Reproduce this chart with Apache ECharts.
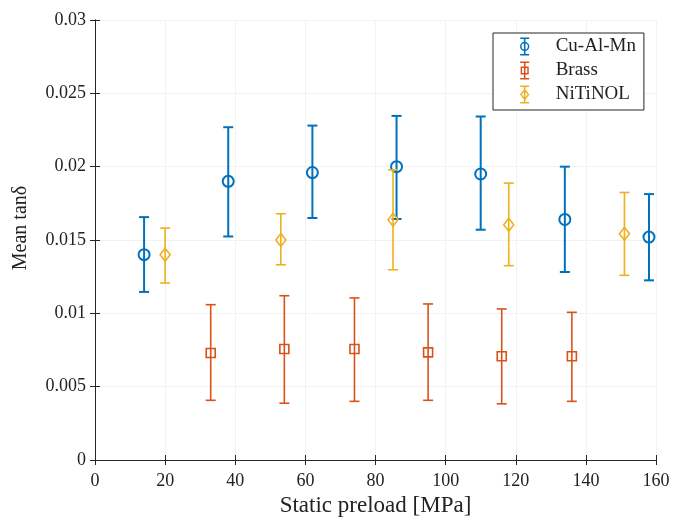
<!DOCTYPE html>
<html>
<head>
<meta charset="utf-8">
<script src="https://cdn.jsdelivr.net/npm/echarts@6/dist/echarts.min.js"></script>
<style>
  html, body { margin: 0; padding: 0; background: #fff; }
  #chart { width: 673px; height: 517px; }
</style>
</head>
<body>
<div id="chart"></div>
<script>
// preload [MPa] and mean tan(delta) with error bar ends
const cuX = [14, 38, 62, 86, 110, 134, 158];
const cuMean = [0.0140, 0.0190, 0.0196, 0.0200, 0.0195, 0.0164, 0.0152];
const cuLow = [0.01146, 0.01524, 0.0165, 0.01643, 0.0157, 0.01282, 0.01225];
const cuHigh = [0.01656, 0.02269, 0.0228, 0.02346, 0.02342, 0.0200, 0.01813];

const brassX = [33, 54, 74, 95, 116, 136];
const brassMean = [0.0073, 0.00757, 0.00757, 0.00734, 0.00707, 0.00707];
const brassLow = [0.00407, 0.00387, 0.0040, 0.00407, 0.00383, 0.0040];
const brassHigh = [0.01059, 0.0112, 0.01105, 0.01064, 0.0103, 0.01007];

const niX = [20, 53, 85, 118, 151];
const niMean = [0.0140, 0.0150, 0.01638, 0.01604, 0.01543];
const niLow = [0.01207, 0.01331, 0.01297, 0.01325, 0.01259];
const niHigh = [0.01581, 0.01679, 0.01978, 0.01888, 0.01824];

const seriesNames = ['Cu-Al-Mn', 'Brass', 'NiTiNOL'];
const colors = ['#0072BD', '#D95319', '#EDB120'];

const FONT = 'Liberation Serif';
const AXIS_COLOR = '#262626';

function rows(x, m, lo, hi) {
  return x.map((v, i) => [v, m[i], lo[i], hi[i]]);
}

// legend icons: error bar with the marker on it
const capsAndLine = 'M1 0H11V1.8H1Z M1 18.2H11V20H1Z M5.1 0H6.9V20H5.1Z ';
const icons = [
  'path://' + capsAndLine + 'M0.8 10A5.2 5.2 0 1 1 11.2 10A5.2 5.2 0 1 1 0.8 10Z M2.5 10A3.5 3.5 0 1 0 9.5 10A3.5 3.5 0 1 0 2.5 10Z',
  'path://' + capsAndLine + 'M1.5 5.5H10.5V14.5H1.5Z M3.1 7.1V12.9H8.9V7.1Z',
  'path://' + capsAndLine + 'M6 3.2L11.2 10L6 16.8L0.8 10Z M6 5.8L2.8 10L6 14.2L9.2 10Z'
];

function errorBar(marker, width) {
  return function (params, api) {
    const x = api.value(0);
    const c = api.coord([x, api.value(1)]);
    const lo = api.coord([x, api.value(2)]);
    const hi = api.coord([x, api.value(3)]);
    const st = { stroke: api.visual('color'), lineWidth: width, fill: 'none' };
    const hw = 5;
    const kids = [
      { type: 'line', shape: { x1: c[0], y1: hi[1], x2: c[0], y2: lo[1] }, style: st },
      { type: 'line', shape: { x1: c[0] - hw, y1: hi[1], x2: c[0] + hw, y2: hi[1] }, style: st },
      { type: 'line', shape: { x1: c[0] - hw, y1: lo[1], x2: c[0] + hw, y2: lo[1] }, style: st }
    ];
    if (marker === 'circle') {
      kids.push({ type: 'circle', shape: { cx: c[0], cy: c[1], r: 5.5 }, style: st });
    } else if (marker === 'square') {
      kids.push({ type: 'rect', shape: { x: c[0] - 4.5, y: c[1] - 4.5, width: 9, height: 9 }, style: st });
    } else {
      kids.push({ type: 'polygon', shape: { points: [[c[0], c[1] - 6.5], [c[0] + 5, c[1]], [c[0], c[1] + 6.5], [c[0] - 5, c[1]]] }, style: st });
    }
    return { type: 'group', children: kids };
  };
}

const chart = echarts.init(document.getElementById('chart'));

const xBase = {
  type: 'value', min: 0, max: 160, interval: 20,
  axisLine: { show: true, lineStyle: { color: AXIS_COLOR, width: 1 } },
  axisTick: { show: true, inside: true, length: 5, lineStyle: { color: AXIS_COLOR } }
};
const yBase = {
  type: 'value', min: 0, max: 0.03, interval: 0.005,
  axisLine: { show: true, lineStyle: { color: AXIS_COLOR, width: 1 } },
  axisTick: { show: true, inside: true, length: 5, lineStyle: { color: AXIS_COLOR } }
};

const option = {
  backgroundColor: '#fff',
  animation: false,
  grid: { left: 95, right: 17, top: 20, bottom: 57, outerBoundsMode: 'none', containLabel: false },
  legend: {
    orient: 'vertical',
    left: 493, top: 33,
    backgroundColor: '#fff',
    borderColor: AXIS_COLOR,
    borderWidth: 1,
    borderRadius: 0,
    padding: [4, 8, 6, 27],
    itemWidth: 52, itemHeight: 18, itemGap: 5,
    textStyle: { fontFamily: FONT, fontSize: 19, color: '#222' },
    data: seriesNames.map((n, i) => ({ name: n, icon: icons[i] }))
  },
  xAxis: [
    Object.assign({}, xBase, {
      position: 'bottom',
      name: 'Static preload [MPa]',
      nameLocation: 'middle', nameGap: 33,
      nameTextStyle: { fontFamily: FONT, fontSize: 23, color: '#222' },
      axisLabel: { fontFamily: FONT, fontSize: 18, color: '#222', margin: 12 },
      splitLine: { show: true, lineStyle: { color: '#f2f2f2' } }
    }),
    Object.assign({}, xBase, { position: 'top', axisLabel: { show: false }, splitLine: { show: false } })
  ],
  yAxis: [
    Object.assign({}, yBase, {
      position: 'left',
      name: 'Mean tanδ',
      nameLocation: 'middle', nameGap: 64,
      nameTextStyle: { fontFamily: FONT, fontSize: 20, color: '#222', padding: [0, 0, 0, 24] },
      axisLabel: { fontFamily: FONT, fontSize: 18, color: '#222', margin: 9 },
      splitLine: { show: true, lineStyle: { color: '#f2f2f2' } }
    }),
    Object.assign({}, yBase, { position: 'right', axisLabel: { show: false }, splitLine: { show: false } })
  ],
  series: [
    {
      name: seriesNames[0], type: 'custom', xAxisIndex: 0, yAxisIndex: 0,
      itemStyle: { color: colors[0] },
      renderItem: errorBar('circle', 2),
      encode: { x: 0, y: [1, 2, 3] },
      data: rows(cuX, cuMean, cuLow, cuHigh)
    },
    {
      name: seriesNames[1], type: 'custom', xAxisIndex: 0, yAxisIndex: 0,
      itemStyle: { color: colors[1] },
      renderItem: errorBar('square', 1.6),
      encode: { x: 0, y: [1, 2, 3] },
      data: rows(brassX, brassMean, brassLow, brassHigh)
    },
    {
      name: seriesNames[2], type: 'custom', xAxisIndex: 0, yAxisIndex: 0,
      itemStyle: { color: colors[2] },
      renderItem: errorBar('diamond', 1.6),
      encode: { x: 0, y: [1, 2, 3] },
      data: rows(niX, niMean, niLow, niHigh)
    }
  ]
};

chart.setOption(option);
</script>
</body>
</html>
